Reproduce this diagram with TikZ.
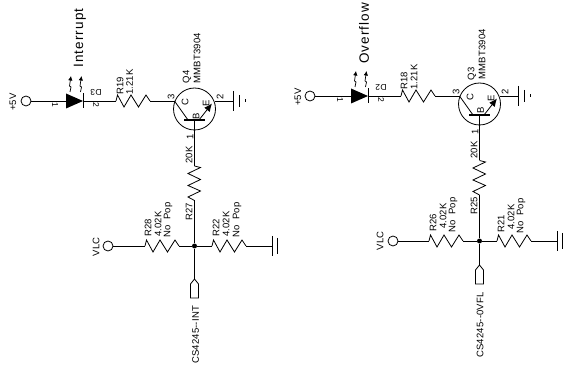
\documentclass[tikz,border=0pt]{standalone}
\usepackage{fontspec}
\setmainfont{Liberation Sans}
\newfontfamily\cadfont[LetterSpace=2]{Liberation Sans}
\newfontfamily\bigfont[LetterSpace=8]{Liberation Sans}
\usetikzlibrary{arrows.meta}
\tikzset{
 x=1pt,y=-1pt,
 wire/.style={line width=0.8pt,black},
 term/.style={circle,draw=black,line width=0.8pt,minimum size=10pt,inner sep=0pt},
 tr/.style={circle,draw=black,line width=0.8pt,minimum size=42pt,inner sep=0pt},
 dot/.style={circle,fill=black,minimum size=5pt,inner sep=0pt},
 lab/.style={rotate=90,font=\cadfont\fontsize{9.5}{9.5}\selectfont,inner sep=0pt,anchor=center},
 pin/.style={rotate=-90,font=\cadfont\fontsize{8.5}{8.5}\selectfont,inner sep=0pt},
 flip/.style={rotate=180,font=\cadfont\fontsize{8.5}{8.5}\selectfont,inner sep=0pt},
 big/.style={rotate=90,font=\bigfont\fontsize{13.5}{13.5}\selectfont,inner sep=0pt,anchor=center},
 gnd/.style={line width=0.8pt,black},
 port/.style={draw=black,line width=0.8pt},
 emit/.style={line width=0.8pt,-{Latex[length=8pt,width=7pt]}},
 led/.style={line width=0.7pt,-{Latex[length=4.5pt,width=4.5pt]}},
 pics/zigh/.style={code={\draw[wire] (0,0) -- (1.5,-6) -- (8,6) -- (15,-6) -- (22.5,6) -- (30,-6) -- (34,0);}},
 pics/zigv/.style={code={\draw[wire] (0,0) -- (-6.5,-3.5) -- (6,-9.5) -- (-6.5,-15) -- (6,-21) -- (-6.5,-27) -- (6,-33) -- (0,-34.5);}}
}
\begin{document}
\begin{tikzpicture}
\useasboundingbox (0,0) rectangle (565,366);
% ---------- left ----------
\node[term] (p5a) at (26,101) {};
\coordinate (da1) at (66,101);
\coordinate (da2) at (83,101);
\coordinate (ra1) at (116,101);
\coordinate (ra2) at (150,101);
\node[tr] (qa) at (194.5,109) {};
\coordinate (qac) at (174.5,101);
\coordinate (qae) at (214.5,101);
\coordinate (qab) at (194.5,120);
\coordinate (ga) at (233,101);
\draw[wire] (p5a) -- (da1) (da2) -- (ra1) (ra2) -- (qac) (qae) -- (ga);
\fill (66,93.5) -- (83,101) -- (66,108.5) -- cycle;
\draw[wire] (83,93.5) -- (83,108.5);
\draw[led] (70,92) -- (71,87) -- (69.5,86) -- (71,76);
\draw[led] (80.5,92) -- (81.5,87) -- (80,86) -- (81.5,76);
\pic at (ra1) {zigh};
\draw[wire] (qac) -- (188,120);
\draw[line width=1.5pt] (184,120) -- (205,120);
\draw[emit] (199,120) -- (212,103.5);
\draw[gnd] (233,91) -- (233,111) (239,95) -- (239,107) (245,99.5) -- (245,102.5);
\coordinate (rba) at (194.5,200.5);
\coordinate (rbb) at (194.5,166);
\node[dot] (ja) at (194.5,246) {};
\draw[wire] (qab) -- (rbb);
\pic at (rba) {zigv};
\draw[wire] (rba) -- (ja);
\node[term] (vlca) at (108,246) {};
\coordinate (rca1) at (145,246);
\coordinate (rca2) at (179,246);
\coordinate (rda1) at (212,246);
\coordinate (rda2) at (246,246);
\coordinate (gb) at (272,246);
\draw[wire] (vlca) -- (rca1) (rca2) -- (ja) -- (rda1) (rda2) -- (gb);
\pic at (rca1) {zigh};
\pic at (rda1) {zigh};
\draw[gnd] (272,236) -- (272,256) (277,238) -- (277,254);
\coordinate (pa) at (194.5,279);
\draw[wire] (ja) -- (pa);
\draw[port] (pa) -- (198.5,284) -- (198.5,298) -- (190.5,298) -- (190.5,284) -- cycle;
% left labels
\node[lab] (t1) at (13,102) {+5V};
\node[big] (t2) at (80,38) {Interrupt};
\node[pin] (t3) at (55,105) {1};
\node[pin] (t4) at (96,105) {2};
\node[flip] (t5) at (96,92) {D3};
\node[lab] (t6) at (120,86) {R19};
\node[lab] (t7) at (129.5,82) {1.21K};
\node[lab] (t8) at (187,77) {Q4};
\node[lab] (t9) at (197,58) {MMBT3904};
\node[lab] (t10) at (171,97) {3};
\node[lab] (t11) at (185,102) {C};
\node[lab] (t12) at (196,116) {B};
\node[lab] (t13) at (206,103) {E};
\node[lab] (t14) at (220,97) {2};
\node[lab] (t15) at (190,137) {1};
\node[lab] (t16) at (189,155) {20K};
\node[lab] (t17) at (189,212) {R27};
\node[lab] (t18) at (96,247) {VLC};
\node[lab] (t19) at (148,228) {R28};
\node[lab] (t20) at (158,224) {4.02K};
\node[lab] (t21) at (168,220) {No\ \ Pop};
\node[lab] (t22) at (216,228) {R22};
\node[lab] (t23) at (226,224) {4.02K};
\node[lab] (t24) at (237,220) {No\ \ Pop};
\node[lab] (t25) at (195.5,335) {CS4245--INT};
% ---------- right ----------
\node[term] (p5b) at (310,96) {};
\coordinate (db1) at (351,96);
\coordinate (db2) at (368,96);
\coordinate (sa1) at (401,96);
\coordinate (sa2) at (435,96);
\node[tr] (qb) at (479.5,104) {};
\coordinate (qbc) at (459.5,96);
\coordinate (qbe) at (499.5,96);
\coordinate (qbb) at (479.5,115);
\coordinate (gc) at (518,96);
\draw[wire] (p5b) -- (db1) (db2) -- (sa1) (sa2) -- (qbc) (qbe) -- (gc);
\fill (351,88.5) -- (368,96) -- (351,103.5) -- cycle;
\draw[wire] (368,88.5) -- (368,103.5);
\draw[led] (355,87) -- (356,82) -- (354.5,81) -- (356,71);
\draw[led] (365.5,87) -- (366.5,82) -- (365,81) -- (366.5,71);
\pic at (sa1) {zigh};
\draw[wire] (qbc) -- (473,115);
\draw[line width=1.5pt] (469,115) -- (490,115);
\draw[emit] (484,115) -- (497,98.5);
\draw[gnd] (518,86) -- (518,106) (524,90) -- (524,102) (530,94.5) -- (530,97.5);
\coordinate (sba) at (479.5,195);
\coordinate (sbb) at (479.5,160.5);
\node[dot] (jb) at (479.5,241) {};
\draw[wire] (qbb) -- (sbb);
\pic at (sba) {zigv};
\draw[wire] (sba) -- (jb);
\node[term] (vlcb) at (393,241) {};
\coordinate (sca1) at (429,241);
\coordinate (sca2) at (463,241);
\coordinate (sda1) at (497,241);
\coordinate (sda2) at (531,241);
\coordinate (gd) at (557,241);
\draw[wire] (vlcb) -- (sca1) (sca2) -- (jb) -- (sda1) (sda2) -- (gd);
\pic at (sca1) {zigh};
\pic at (sda1) {zigh};
\draw[gnd] (557,231) -- (557,251) (562,233) -- (562,249);
\coordinate (pb) at (479.5,265);
\draw[wire] (jb) -- (pb);
\draw[port] (pb) -- (483.5,270) -- (483.5,284) -- (475.5,284) -- (475.5,270) -- cycle;
% right labels
\node[lab] (u1) at (298,97) {+5V};
\node[big] (u2) at (364,33.5) {Overflow};
\node[pin] (u3) at (340,100) {1};
\node[pin] (u4) at (381,100) {2};
\node[flip] (u5) at (381,87) {D2};
\node[lab] (u6) at (404,81) {R18};
\node[lab] (u7) at (414,77) {1.21K};
\node[lab] (u8) at (472,74) {Q3};
\node[lab] (u9) at (482,54) {MMBT3904};
\node[lab] (u10) at (456,92) {3};
\node[lab] (u11) at (470,97) {C};
\node[lab] (u12) at (480.5,110) {B};
\node[lab] (u13) at (491,98) {E};
\node[lab] (u14) at (505,92) {2};
\node[lab] (u15) at (475,132) {1};
\node[lab] (u16) at (474,150) {20K};
\node[lab] (u17) at (474,206) {R25};
\node[lab] (u18) at (380,241) {VLC};
\node[lab] (u19) at (433,223) {R26};
\node[lab] (u20) at (443,216) {4.02K};
\node[lab] (u21) at (453,215) {No\ \ Pop};
\node[lab] (u22) at (501,224) {R21};
\node[lab] (u23) at (511,217) {4.02K};
\node[lab] (u24) at (521,216) {No\ \ Pop};
\node[lab] (u25) at (480,325) {CS4245--0VFL};
\end{tikzpicture}
\end{document}
